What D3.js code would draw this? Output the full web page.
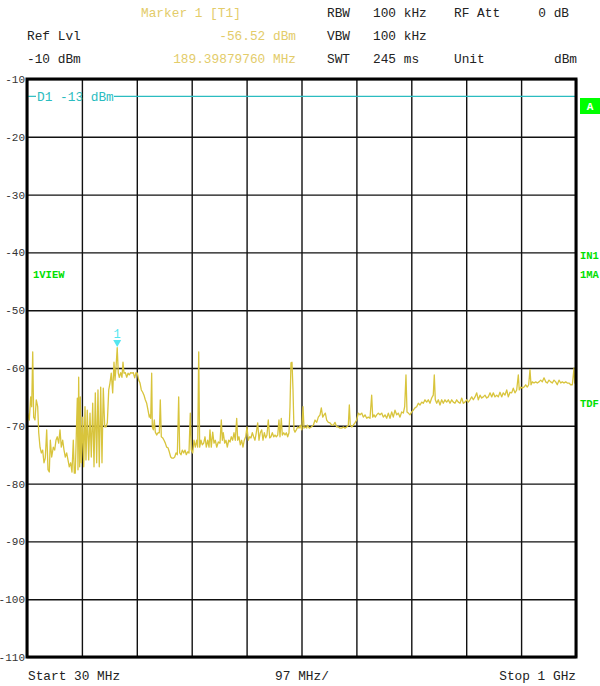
<!DOCTYPE html>
<html><head><meta charset="utf-8">
<script src="https://cdn.jsdelivr.net/npm/d3@7"></script>
<style>
html,body{margin:0;padding:0;background:#fff;}
svg{display:block;}
text{font-family:"Liberation Mono","DejaVu Sans Mono",monospace;}
</style></head>
<body>
<svg id="chart" width="600" height="686"></svg>
<script>
// ---- data ----
const startMHz = 30, stopMHz = 1000, divMHz = 97;
const refLevel = -10, bottomLevel = -110;
const yTicks = [-10,-20,-30,-40,-50,-60,-70,-80,-90,-100,-110];
const xGrid = [30,127,224,321,418,515,612,709,806,903,1000];
const displayLine = -13;
const markerFreq = 189.3988, markerLevel = -56.52;

const freqMHz = [
31.2,34.1,36.5,38.3,40.1,41.8,44.1,46.4,48.9,50.7,53.0,55.3,57.7,60.0,62.3,64.8,67.1,69.4,71.2,73.6,
76.5,78.9,81.2,83.5,86.0,88.3,90.6,93.1,95.4,97.7,100.1,102.4,104.7,107.2,109.5,111.8,113.6,115.3,117.1,118.9,
120.1,121.3,123.1,124.2,125.9,128.4,130.2,132.5,134.2,136.5,139.0,141.3,143.6,146.1,148.4,150.7,153.1,155.4,157.7,160.2,
162.5,164.8,167.3,169.6,171.9,174.4,176.6,178.9,181.4,183.7,185.5,187.8,189.4,191.3,193.1,195.6,197.8,199.6,201.4,203.7,
206.2,208.5,210.7,213.2,215.5,217.8,220.3,222.6,224.9,227.4,229.7,232.0,234.4,236.7,239.0,241.5,243.8,246.1,247.3,248.6,
250.3,251.4,253.2,254.9,256.7,259.2,261.5,263.8,265.5,267.3,269.8,272.1,274.4,276.8,279.1,281.4,283.9,286.2,288.5,291.0,
293.3,295.6,298.0,299.8,302.1,304.4,306.9,309.2,311.5,313.9,316.2,318.5,320.3,322.8,325.1,327.4,329.8,331.6,333.4,335.1,
337.4,339.7,342.2,344.5,346.8,349.3,351.6,353.3,355.6,358.1,360.4,362.7,365.2,368.0,371.0,373.3,375.1,376.8,379.3,381.6,
383.9,386.4,388.7,391.0,393.4,395.7,398.0,400.5,402.3,404.6,406.9,409.3,411.6,413.9,416.4,418.7,421.0,423.5,425.8,428.1,
430.5,432.8,435.1,437.6,439.9,442.2,444.7,447.0,449.3,451.7,454.0,456.3,458.8,461.1,463.4,465.9,468.2,470.5,473.0,475.2,
477.0,479.3,481.1,483.6,485.9,488.2,490.6,492.9,494.7,496.4,498.2,500.0,501.7,503.5,505.8,508.3,510.6,512.9,515.4,517.7,
519.4,521.7,524.2,525.2,528.8,532.3,535.9,538.9,541.9,544.7,547.7,550.0,552.5,554.8,557.1,559.5,562.4,565.4,568.4,571.2,
574.2,577.2,580.0,583.0,586.0,588.9,591.9,594.9,597.7,599.5,601.2,603.7,606.5,609.5,612.5,615.4,618.4,621.4,624.2,627.2,
630.2,633.0,636.0,639.0,640.8,643.1,645.4,647.9,650.7,653.7,656.7,659.5,662.5,665.5,668.4,671.4,674.4,677.2,680.2,683.2,
686.0,689.0,692.0,694.9,697.3,699.6,701.4,703.7,706.7,709.7,712.5,715.5,718.5,721.4,724.4,727.4,730.2,733.2,736.2,739.0,
742.0,745.0,747.8,749.6,751.4,753.9,756.7,759.7,762.7,765.5,768.5,771.5,774.4,777.4,780.4,783.2,786.2,789.2,792.1,795.1,
798.1,800.9,803.9,806.9,809.7,812.7,815.7,818.6,821.6,824.6,827.4,830.4,833.4,836.2,839.2,842.2,845.0,848.1,851.1,853.9,
856.9,859.9,862.7,865.7,868.7,871.5,874.5,877.6,880.4,883.4,886.4,889.2,892.2,895.2,898.1,899.8,902.3,905.1,908.1,911.1,
913.9,916.4,918.7,920.5,922.8,925.8,928.8,931.6,934.6,937.6,940.5,943.5,946.5,949.3,952.3,955.3,958.1,961.1,964.1,966.9,
970.0,973.0,975.8,978.8,981.8,984.6,987.6,990.6,993.5,996.5,997.7,1000
];
const levelDbm = [
-67.8,-69.0,-65.0,-66.7,-57.2,-68.5,-69.0,-65.5,-66.7,-71.2,-73.7,-74.7,-74.2,-76.4,-75.6,-70.7,-77.6,-78.0,-72.5,-75.4,
-73.7,-74.2,-72.5,-71.9,-73.0,-70.7,-73.7,-72.5,-74.2,-75.4,-74.7,-75.9,-77.1,-76.4,-78.0,-72.5,-78.2,-78.2,-71.6,-65.2,
-77.6,-61.6,-77.1,-65.0,-76.4,-68.5,-77.1,-66.7,-75.9,-67.3,-75.9,-67.8,-75.4,-66.1,-77.1,-64.3,-76.4,-63.8,-77.1,-63.3,
-76.4,-63.5,-70.2,-70.2,-69.5,-63.8,-62.6,-60.9,-64.3,-59.0,-62.1,-59.1,-56.5,-60.9,-61.6,-60.8,-61.6,-59.0,-60.9,-60.8,
-61.6,-60.9,-61.2,-60.8,-60.9,-60.8,-61.7,-60.8,-60.9,-62.1,-62.6,-63.8,-64.2,-64.7,-65.5,-66.1,-67.3,-68.5,-68.1,-68.7,
-60.9,-70.2,-70.7,-69.0,-71.1,-71.6,-71.2,-71.2,-65.5,-71.9,-72.1,-72.5,-73.0,-73.7,-73.8,-74.5,-75.4,-75.6,-75.6,-75.4,
-74.7,-75.0,-65.0,-74.7,-75.0,-74.2,-74.7,-74.2,-75.0,-74.5,-74.7,-67.8,-74.2,-74.7,-72.5,-73.7,-72.5,-73.7,-57.2,-73.7,
-72.5,-73.3,-73.0,-71.9,-73.7,-72.5,-73.7,-70.7,-73.7,-71.1,-73.0,-72.5,-73.7,-72.8,-73.0,-69.0,-72.5,-71.2,-73.0,-72.5,
-73.7,-72.5,-72.8,-71.9,-72.5,-71.2,-72.5,-68.7,-72.5,-71.9,-73.3,-72.5,-73.7,-72.5,-71.9,-70.2,-72.5,-71.9,-72.1,-71.2,
-71.9,-72.5,-71.2,-69.5,-72.5,-71.2,-70.7,-72.5,-71.2,-72.1,-71.6,-69.0,-72.1,-71.9,-71.2,-71.9,-71.6,-71.9,-71.6,-69.0,
-71.9,-68.7,-71.6,-71.2,-71.6,-71.2,-71.9,-71.2,-66.7,-59.1,-59.0,-63.8,-70.7,-71.1,-70.7,-70.2,-70.4,-69.9,-70.7,-66.7,
-70.4,-70.2,-70.4,-69.9,-70.4,-70.2,-69.9,-69.0,-69.4,-68.5,-68.1,-66.9,-68.5,-68.1,-67.8,-69.0,-69.4,-69.5,-69.9,-69.9,
-69.4,-70.2,-70.2,-70.4,-70.4,-70.2,-70.4,-70.2,-69.9,-66.4,-69.9,-70.2,-69.9,-69.5,-69.0,-67.8,-68.1,-67.8,-68.5,-68.1,
-68.7,-68.5,-68.7,-64.7,-68.5,-68.1,-68.5,-68.1,-67.8,-68.1,-67.8,-68.5,-68.1,-68.7,-67.8,-68.7,-67.6,-68.5,-67.3,-68.1,
-67.8,-68.5,-67.6,-67.8,-66.7,-61.2,-67.6,-67.8,-68.1,-67.6,-67.3,-66.9,-66.7,-66.1,-66.4,-65.9,-66.1,-65.5,-65.9,-65.5,
-66.1,-65.2,-64.7,-61.2,-65.5,-66.1,-65.5,-66.4,-65.5,-66.1,-65.5,-65.9,-65.5,-66.1,-65.5,-65.9,-66.1,-65.5,-65.9,-66.1,
-65.2,-66.1,-65.9,-65.5,-65.9,-65.5,-65.0,-65.5,-65.0,-64.3,-65.5,-64.7,-65.2,-65.0,-64.7,-65.2,-65.0,-64.3,-65.0,-64.3,
-65.0,-64.7,-65.0,-64.2,-65.0,-64.3,-64.7,-63.8,-65.0,-64.2,-64.3,-63.5,-64.3,-63.8,-61.2,-63.8,-63.3,-63.5,-63.3,-62.9,
-63.3,-62.9,-60.3,-62.9,-62.4,-62.6,-62.4,-62.6,-62.4,-62.1,-62.4,-61.7,-62.4,-62.6,-62.1,-62.4,-62.6,-62.1,-62.4,-62.9,
-62.1,-62.6,-62.4,-62.6,-62.4,-62.6,-62.6,-62.9,-62.9,-60.0,-62.6,-62.6
];

const headerBlack = [
  {t:"RBW", x:327, y:17}, {t:"100 kHz", x:373, y:17}, {t:"RF Att", x:454, y:17}, {t:"0 dB", x:569, y:17, a:"end"},
  {t:"Ref Lvl", x:27, y:40}, {t:"VBW", x:327, y:40}, {t:"100 kHz", x:373, y:40},
  {t:"-10 dBm", x:27, y:63}, {t:"SWT", x:327, y:63}, {t:"245 ms", x:373, y:63}, {t:"Unit", x:454, y:63}, {t:"dBm", x:577, y:63, a:"end"}
];
const headerMarker = [
  {t:"Marker 1 [T1]", x:141, y:17}, {t:"-56.52 dBm", x:296, y:40, a:"end"}, {t:"189.39879760 MHz", x:296, y:63, a:"end"}
];
const sideLabels = [
  {t:"IN1", x:580, y:259}, {t:"1MA", x:580, y:278}, {t:"TDF", x:580, y:407}, {t:"1VIEW", x:33, y:278}
];
const footer = [
  {t:"Start 30 MHz", x:28, y:680, a:"start"}, {t:"97 MHz/", x:302, y:680, a:"middle"}, {t:"Stop 1 GHz", x:576, y:680, a:"end"}
];

// ---- drawing ----
const svg = d3.select("#chart");
const L = 27, R = 576, T = 79, B = 657;
const x = d3.scaleLinear().domain([startMHz, stopMHz]).range([L, R]);
const y = d3.scaleLinear().domain([bottomLevel, refLevel]).range([B, T]);

// header texts
svg.selectAll("text.hb").data(headerBlack).join("text")
  .attr("x", d => d.x).attr("y", d => d.y).attr("text-anchor", d => d.a || "start")
  .attr("font-size", 12.8).attr("fill", "#222").text(d => d.t);
svg.selectAll("text.hm").data(headerMarker).join("text")
  .attr("x", d => d.x).attr("y", d => d.y).attr("text-anchor", d => d.a || "start")
  .attr("font-size", 12.8).attr("fill", "#e3cc6a").text(d => d.t);

// grid via axes
const gx = svg.append("g").attr("transform", `translate(0,${B})`)
  .call(d3.axisBottom(x).tickValues(xGrid).tickSize(-(B - T)).tickFormat(""));
gx.select(".domain").remove();
gx.selectAll(".tick line").attr("stroke", "#111").attr("stroke-width", 1.4);

const gy = svg.append("g").attr("transform", `translate(${L},0)`)
  .call(d3.axisLeft(y).tickValues(yTicks).tickSize(-(R - L)).tickPadding(2).tickFormat(d => d));
gy.select(".domain").remove();
gy.selectAll(".tick line").attr("stroke", "#111").attr("stroke-width", 1.4);
gy.selectAll(".tick text").attr("font-size", 11).attr("fill", "#333")
  .attr("font-family", '"Liberation Mono","DejaVu Sans Mono",monospace');

// display line D1
const dy = y(displayLine);
svg.append("line").attr("x1", L).attr("x2", 36).attr("y1", dy).attr("y2", dy).attr("stroke", "#2bbcc0").attr("stroke-width", 1.2);
svg.append("line").attr("x1", 114).attr("x2", R).attr("y1", dy).attr("y2", dy).attr("stroke", "#2bbcc0").attr("stroke-width", 1.2);
svg.append("text").attr("x", 37).attr("y", dy + 4.5).attr("font-size", 12.8).attr("fill", "#2bbcc0").text("D1 -13 dBm");

// trace
const pts = freqMHz.map((f, i) => [f, levelDbm[i]]);
svg.append("path").datum(pts)
  .attr("d", d3.line().x(d => x(d[0])).y(d => y(d[1])))
  .attr("fill", "none").attr("stroke", "#d8c43c").attr("stroke-width", 1.3).attr("stroke-linejoin", "round");

// frame
svg.append("rect").attr("x", L).attr("y", T).attr("width", R - L).attr("height", B - T)
  .attr("fill", "none").attr("stroke", "#000").attr("stroke-width", 3);

// marker
const mx = x(markerFreq), my = y(markerLevel);
svg.append("path").attr("d", `M${mx - 4},${my - 8} L${mx + 4},${my - 8} L${mx},${my - 1} Z`).attr("fill", "#55e6f0");
svg.append("text").attr("x", mx).attr("y", my - 10).attr("text-anchor", "middle")
  .attr("font-size", 12).attr("fill", "#55e6f0").text("1");

// side labels
svg.append("rect").attr("x", 580).attr("y", 98).attr("width", 20).attr("height", 16).attr("fill", "#00ff00");
svg.append("text").attr("x", 590).attr("y", 110).attr("text-anchor", "middle").attr("font-size", 11)
  .attr("font-weight", "bold").attr("fill", "#fff").text("A");
svg.selectAll("text.sl").data(sideLabels).join("text")
  .attr("x", d => d.x).attr("y", d => d.y).attr("font-size", 10.5).attr("font-weight", "bold")
  .attr("fill", "#00e000").text(d => d.t);

// footer
svg.selectAll("text.ft").data(footer).join("text")
  .attr("x", d => d.x).attr("y", d => d.y).attr("text-anchor", d => d.a)
  .attr("font-size", 12.8).attr("fill", "#222").text(d => d.t);
</script>
</body></html>
